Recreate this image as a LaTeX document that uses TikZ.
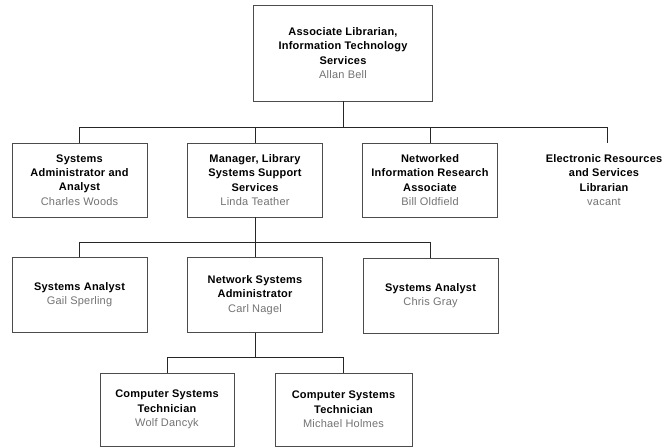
\documentclass[tikz,border=0pt]{standalone}
\usepackage{fontspec}
\setmainfont[LetterSpace=2]{Liberation Sans}
\begin{document}
\begin{tikzpicture}[x=1pt,y=-1pt,
  box/.style={draw=black!70, line width=0.7pt, fill=white, minimum width=135pt, minimum height=74pt, align=center, inner sep=2pt, font=\fontsize{11}{14.3}\selectfont},
  nobox/.style={box, draw=none, fill=none},
  conn/.style={draw=black!85, line width=0.9pt}]
\newcommand{\who}[1]{\\{\color{black!55}#1}}
\useasboundingbox (0,0) rectangle (665,447);
\node[box, minimum width=179pt, minimum height=96pt] (top) at (343,53)
  {\bfseries Associate Librarian,\\\bfseries Information Technology\\\bfseries Services\who{Allan Bell}};
\node[box] (sa) at (79.5,180) {\bfseries Systems\\\bfseries Administrator and\\\bfseries Analyst\who{Charles Woods}};
\node[box] (mgr) at (255,180) {\bfseries Manager, Library\\\bfseries Systems Support\\\bfseries Services\who{Linda Teather}};
\node[box] (nir) at (430,180) {\bfseries Networked\\\bfseries Information Research\\\bfseries Associate\who{Bill Oldfield}};
\node[nobox] (er) at (604,180) {\bfseries Electronic Resources\\\bfseries and Services\\\bfseries Librarian\who{vacant}};
\node[box, minimum height=75pt] (gs) at (79.5,294.5) {\bfseries Systems Analyst\who{Gail Sperling}};
\node[box, minimum height=75pt] (nsa) at (255,295) {\bfseries Network Systems\\\bfseries Administrator\who{Carl Nagel}};
\node[box, minimum height=75pt] (cg) at (430.5,296) {\bfseries Systems Analyst\who{Chris Gray}};
\node[box, minimum width=134pt, minimum height=73pt] (wd) at (167,409.5) {\bfseries Computer Systems\\\bfseries Technician\who{Wolf Dancyk}};
\node[box, minimum width=137pt, minimum height=73pt] (mh) at (343.5,409.5) {\bfseries Computer Systems\\\bfseries Technician\who{Michael Holmes}};
\coordinate (j1) at (343,127);
\coordinate (j2) at (255,242);
\coordinate (j3) at (255,357);
\coordinate (e1) at (607,127);
\draw[conn] (top.south) -- (j1);
\draw[conn] (sa.north) -- (sa.north |- j1) -- (e1) -- (e1 |- er.north);
\draw[conn] (mgr.north) -- (mgr.north |- j1);
\draw[conn] (nir.north) -- (nir.north |- j1);
\draw[conn] (mgr.south) -- (j2);
\draw[conn] (gs.north) -- (gs.north |- j2) -- (cg.north |- j2) -- (cg.north);
\draw[conn] (j2) -- (nsa.north);
\draw[conn] (nsa.south) -- (j3);
\draw[conn] (wd.north) -- (wd.north |- j3) -- (mh.north |- j3) -- (mh.north);
\end{tikzpicture}
\end{document}
